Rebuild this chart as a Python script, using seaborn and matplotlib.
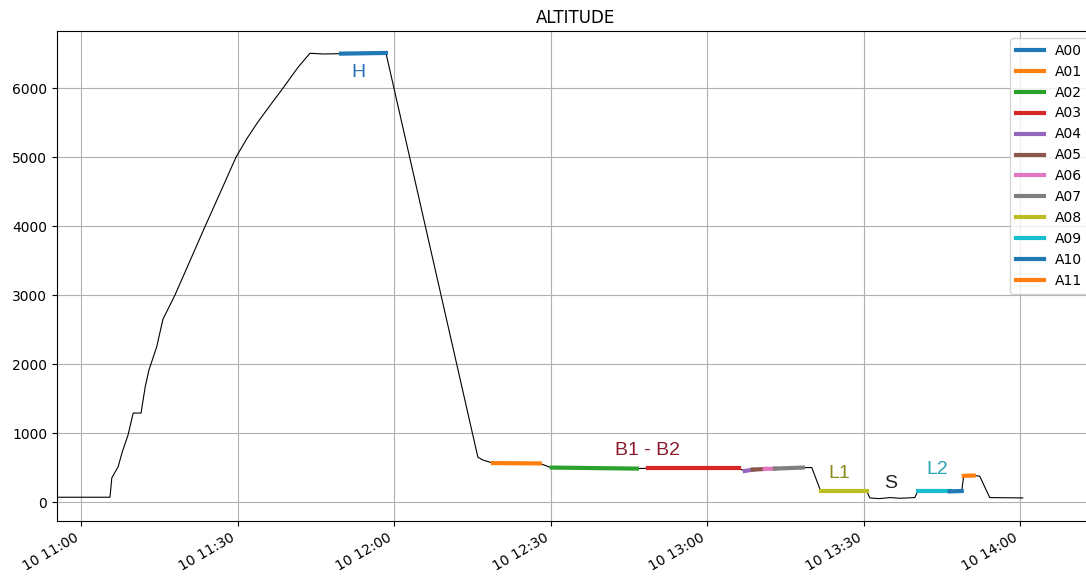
import matplotlib
matplotlib.use("Agg")
import matplotlib.pyplot as plt
import matplotlib.dates as mdates
import pandas as pd
import seaborn as sns

DAY = "2023-06-10 "

# Flight track: time of day and altitude
track_time = [
    "10:55:24", "11:05:33", "11:05:54", "11:07:06", "11:07:54", "11:09:00",
    "11:10:00", "11:11:30", "11:12:18", "11:13:00", "11:14:30", "11:15:42",
    "11:18:00", "11:23:48", "11:27:00", "11:29:42", "11:31:48", "11:33:54",
    "11:36:20", "11:38:42", "11:41:34", "11:43:52", "11:46:30", "11:49:49",
    "11:54:00", "11:58:26", "12:16:03",
    "12:17:00", "12:18:56", "12:27:56", "12:29:51", "12:30:14", "12:46:31",
    "12:48:37", "13:06:03", "13:07:12", "13:08:44", "13:11:02", "13:12:57",
    "13:18:19", "13:20:02", "13:21:46", "13:30:35", "13:31:09", "13:33:00",
    "13:35:00", "13:37:00", "13:39:46", "13:40:21", "13:46:28", "13:48:46",
    "13:49:09", "13:51:04", "13:52:13", "13:54:08", "14:00:28",
]
track_alt = [
    70, 70, 350, 510, 725, 970,
    1290, 1290, 1670, 1910, 2250, 2650,
    3000, 4000, 4540, 5000, 5270, 5510,
    5760, 6000, 6300, 6505, 6495, 6500,
    6505, 6510, 650,
    610, 565, 560, 505, 500, 485,
    490, 490, 450, 470, 480, 485,
    500, 500, 155, 155, 60, 50,
    65, 55, 65, 155, 155, 160,
    380, 385, 375, 65, 60,
]

# Flight phases A00..A11 (start / end time)
segment_names = ["A00", "A01", "A02", "A03", "A04", "A05",
                 "A06", "A07", "A08", "A09", "A10", "A11"]
segment_start = ["11:49:49", "12:18:56", "12:30:14", "12:48:37", "13:07:12", "13:08:44",
                 "13:11:02", "13:12:57", "13:21:46", "13:40:21", "13:46:28", "13:49:09"]
segment_end = ["11:58:26", "12:27:56", "12:46:31", "13:06:03", "13:08:44", "13:11:02",
               "13:12:57", "13:18:19", "13:30:35", "13:46:28", "13:48:46", "13:51:04"]
segment_colors = ["tab:blue", "tab:orange", "tab:green", "tab:red", "tab:purple",
                  "tab:brown", "tab:pink", "tab:gray", "tab:olive", "tab:cyan",
                  "tab:blue", "tab:orange"]

# Phase annotations
note_text = ["H", "B1 - B2", "L1", "S", "L2"]
note_time = ["11:53:06", "12:48:37", "13:25:13", "13:35:10", "13:44:10"]
note_alt = [6232, 754, 420, 275, 478]
note_color = ["#2a6fb8", "#8c1c2c", "#8a8a1c", "#222222", "#2aa3b3"]

track = pd.DataFrame({
    "time": pd.to_datetime([DAY + t for t in track_time]),
    "alt": track_alt,
})

fig = plt.figure(figsize=(10.86, 5.77), dpi=100)
ax = fig.add_axes([0.0525, 0.097, 0.9555, 0.849])

sns.lineplot(data=track, x="time", y="alt", color="black", linewidth=0.8,
             estimator=None, sort=False, ax=ax)

for name, s, e, c in zip(segment_names, segment_start, segment_end, segment_colors):
    t0, t1 = pd.Timestamp(DAY + s), pd.Timestamp(DAY + e)
    part = track[(track["time"] >= t0) & (track["time"] <= t1)]
    sns.lineplot(data=part, x="time", y="alt", color=c, linewidth=3,
                 estimator=None, sort=False, label=name, ax=ax)

for txt, t, a, c in zip(note_text, note_time, note_alt, note_color):
    ax.text(pd.Timestamp(DAY + t), a, txt, color=c, fontsize=14,
            family=["Liberation Sans", "DejaVu Sans"], ha="center", va="center")

ax.set_xlim(pd.Timestamp(DAY + "10:55:24"), pd.Timestamp(DAY + "14:14:15"))
ax.set_ylim(-275, 6826)
ax.xaxis.set_major_locator(mdates.MinuteLocator(byminute=[0, 30]))
ax.xaxis.set_major_formatter(mdates.DateFormatter("%d %H:%M"))
ax.set_yticks(range(0, 7000, 1000))
plt.setp(ax.get_xticklabels(), rotation=30, ha="right")
ax.set_xlabel("")
ax.set_ylabel("")
ax.grid(True)
ax.set_title("ALTITUDE", fontsize=12)
ax.legend(loc="upper right")

fig.savefig("out.png", dpi=100)
